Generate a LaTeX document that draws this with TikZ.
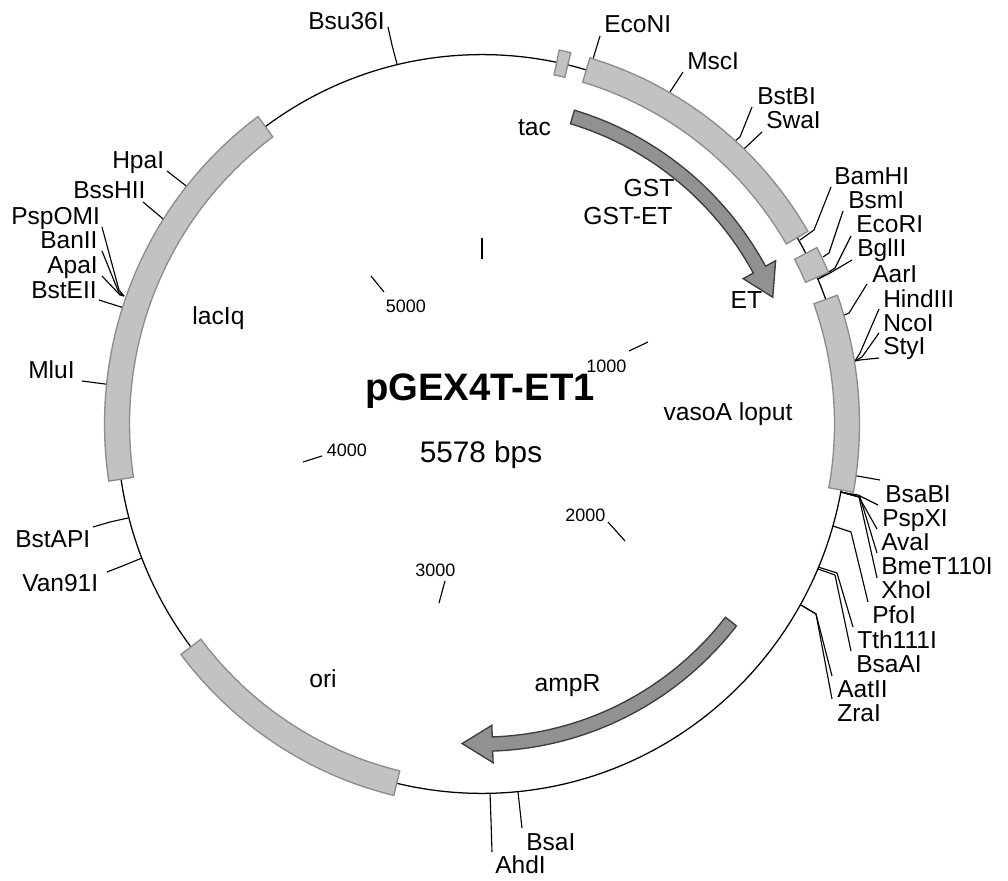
\documentclass[tikz,border=0pt]{standalone}
\usepackage{fontspec}
\usepackage{xcolor}
\setmainfont{Liberation Sans}
\definecolor{geneFill}{RGB}{194,194,194}
\definecolor{geneEdge}{RGB}{140,140,140}
\definecolor{cdsFill}{RGB}{145,145,145}
\definecolor{cdsEdge}{RGB}{60,60,60}
\tikzset{
    declare function={ringx(\r,\t)=482+\r*cos(\t); ringy(\r,\t)=424+1.012*\r*sin(\t);},
    geneblockstyle/.style={draw=geneEdge, fill=geneFill, line width=1pt, line join=miter},
    cdsarrow/.style={draw=cdsEdge, fill=cdsFill, line width=1pt, line join=miter},
    ringline/.style={draw=black, line width=0.95pt},
    siteline/.style={draw=black, line width=0.85pt, line join=round},
    sitelabel/.style={anchor=base west, inner sep=0pt, font=\fontsize{18.4}{20}\selectfont},
    genelabel/.style={anchor=base, inner sep=0pt, font=\fontsize{18.5}{20}\selectfont},
    scalelabel/.style={anchor=base west, inner sep=0pt, font=\fontsize{13.5}{15}\selectfont}
}
% grey block on the ring
\newcommand{\geneblock}[2]{\draw[geneblockstyle]
    plot[domain=#1:#2, samples=40] ({ringx(377.5,\x)},{ringy(377.5,\x)})
    -- plot[domain=#2:#1, samples=40] ({ringx(352.5,\x)},{ringy(352.5,\x)}) -- cycle;}
% arrow inside the ring: radius, start, head base, tip
\newcommand{\cdsbend}[4]{\draw[cdsarrow]
    plot[domain=#2:#3, samples=40] ({ringx(#1+7,\x)},{ringy(#1+7,\x)})
    -- ({ringx(#1+18.5,#3)},{ringy(#1+18.5,#3)}) -- ({ringx(#1,#4)},{ringy(#1,#4)})
    -- ({ringx(#1-18.5,#3)},{ringy(#1-18.5,#3)})
    -- plot[domain=#3:#2, samples=40] ({ringx(#1-7,\x)},{ringy(#1-7,\x)}) -- cycle;}
\begin{document}
\begin{tikzpicture}[x=0.75pt, y=-0.75pt]
    \useasboundingbox (0,0) rectangle (1008,881);
    \draw[ringline] (482,424) ellipse [x radius=365, y radius=369.4];

    % cut sites: name / label / outer end / elbow / ring
    \foreach \name/\lx/\ly/\ex/\ey/\kx/\ky/\bx/\by in {
        Bsu36I/308/30/388/27/392/45/397/64,
        EcoNI/604/33/600/36/593/59/590/67,
        MscI/687/70/683/72/670/92/666/98,
        BstBI/757/105/752/107/740/137/730/145,
        SwaI/766/128/762/132/745/148/735/155,
        BamHI/834/185/831/187/814/230/800/240,
        BsmI/848/209/843/211/829/253/823/257,
        EcoRI/856/233/851/236/835/268/818/279,
        BglII/857/257/852/260/830/273/818/279,
        AarI/872/282/867/284/849/313/840/317,
        HindIII/883/307/879/309/860/353/855/361,
        NcoI/883/331/879/333/862/357/855/361,
        StyI/883/354/879/358/860/360/850/362,
        BsaBI/885/502/880/480/857/476/845/474,
        PspXI/882/526/878/505/858/495/840/492,
        AvaI/881/550/877/529/859/497/841/492,
        BmeT110I/881/574/877/553/860/497/841/492,
        XhoI/881/598/877/578/859/497/841/492,
        PfoI/872/623/868/602/851/532/833/526,
        Tth111I/857/648/853/627/837/573/818/567,
        BsaAI/856/672/851/651/835/575/818/569,
        AatII/837/697/832/676/816/614/801/605,
        ZraI/837/721/832/699/816/614/801/605,
        BsaI/526/850/522/828/520/810/518/792,
        AhdI/495/873/492/852/491/820/490/793,
        Van91I/22/591/107/572/125/565/142/558,
        BstAPI/15/547/93/527/110/522/128/518,
        MluI/28/378/82/381/105/384/118/386,
        BstEII/31/298/99/300/121/307/130/310,
        ApaI/47/273/102/276/120/295/124/296,
        BanII/40/248/102/251/119/293/124/296,
        PspOMI/11/224/102/227/119/290/124/296,
        BssHII/73/199/143/202/162/218/170/226,
        HpaI/112/168/167/171/185/185/195/193%
    }{
        \node[sitelabel] (\name) at (\lx,\ly) {\name};
        \coordinate (\name-end) at (\ex,\ey);
        \coordinate (\name-elbow) at (\kx,\ky);
        \coordinate (\name-ring) at (\bx,\by);
        \draw[siteline] (\name-end) -- (\name-elbow) -- (\name-ring);
    }

    \geneblock{-78.2}{-76.4}
    \geneblock{-73.4}{-30.3}
    \geneblock{-27.5}{-23.4}
    \geneblock{-19.7}{10.3}
    \geneblock{103.5}{142.9}
    \geneblock{171.4}{233.6}

    % the two arrows inside the ring
    \cdsbend{316.6}{-73.4}{-28.8}{-23.3}
    \cdsbend{316.4}{38.1}{88.1}{93.6}

    % scale marks
    \foreach \tag/\ax/\ay/\cx/\cy in {
        t0/482/238/482/259,
        t5000/371/276/384/292,
        t4000/303/462/322/456,
        t3000/439/603/445/581,
        t2000/608/522/625/541,
        t1000/629/351/648/342%
    }{
        \coordinate (\tag-a) at (\ax,\ay);
        \coordinate (\tag-b) at (\cx,\cy);
        \draw[siteline] (\tag-a) -- (\tag-b);
    }
    \node[scalelabel] (n5000) at (385.5,312) {5000};
    \node[scalelabel] (n4000) at (326.5,456) {4000};
    \node[scalelabel] (n3000) at (415,576) {3000};
    \node[scalelabel] (n2000) at (565,521) {2000};
    \node[scalelabel] (n1000) at (586,372) {1000};

    \node[genelabel] (tac) at (534.5,136) {tac};
    \node[genelabel] (gst) at (649,196) {GST};
    \node[genelabel] (gstet) at (628,224) {GST-ET};
    \node[genelabel] (et) at (746.5,308) {ET};
    \node[genelabel] (laciq) at (218.5,324) {lacIq};
    \node[genelabel] (vaso) at (728,420) {vasoA loput};
    \node[genelabel] (ori) at (323,687) {ori};
    \node[genelabel] (ampr) at (567.5,691) {ampR};

    \node[anchor=base, inner sep=0pt, font=\fontsize{28.7}{30}\selectfont\bfseries] (title) at (480,400) {pGEX4T-ET1};
    \node[anchor=base, inner sep=0pt, font=\fontsize{22.3}{24}\selectfont] (size) at (481,462) {5578 bps};
\end{tikzpicture}
\end{document}
